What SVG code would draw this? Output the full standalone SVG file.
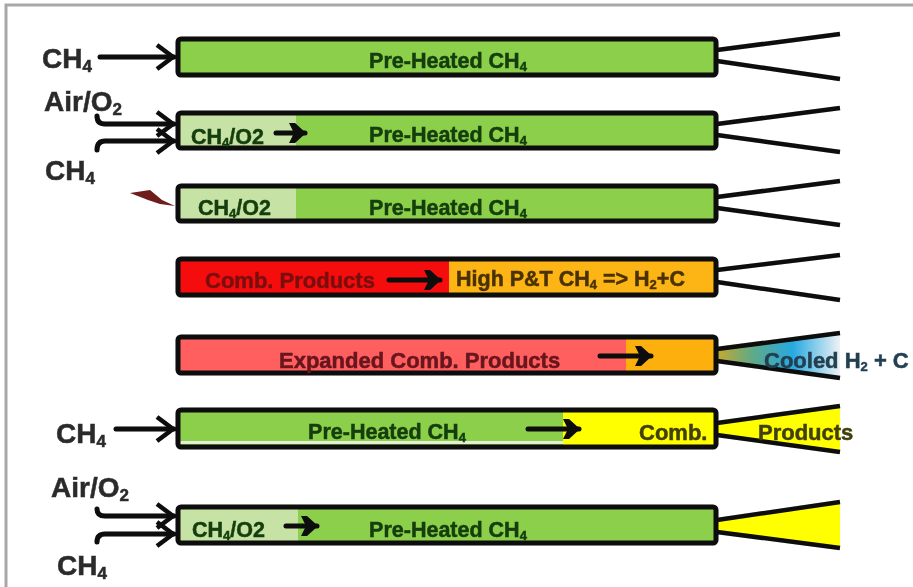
<svg xmlns="http://www.w3.org/2000/svg" width="913" height="587" viewBox="0 0 913 587">
<style>
text{font-family:"Liberation Sans",Arial,sans-serif;font-weight:700;stroke-width:0.5;paint-order:stroke}
.lab{font-size:28px;fill:#2c2c2c;stroke:#2c2c2c}
.in{font-size:21.5px;fill:#123c0a;stroke:#123c0a}
.s{font-size:13px}
.ls{font-size:17px}
.tube{fill:none;stroke:#0a0a0a;stroke-width:5;stroke-linejoin:round}
.noz{fill:none;stroke:#0a0a0a;stroke-width:4.5;stroke-linecap:butt}
.ln{fill:none;stroke:#0a0a0a;stroke-width:5;stroke-linecap:round;stroke-linejoin:round}
.g{fill:#8ccf4b}.lg{fill:#c6e3a5}
</style>
<defs>
<filter id="soft" x="0" y="0" width="913" height="587" filterUnits="userSpaceOnUse"><feGaussianBlur stdDeviation="0.6"/></filter>
<marker id="open" markerUnits="userSpaceOnUse" markerWidth="24" markerHeight="30" refX="21" refY="15" orient="auto"><path d="M4 3L20 15L4 27" fill="none" stroke="#0a0a0a" stroke-width="4.5"/></marker>
<marker id="solid" markerUnits="userSpaceOnUse" markerWidth="20" markerHeight="24" refX="18" refY="12" orient="auto"><path d="M2 2H8L19 12L8 22H2L7 12Z" fill="#0a0a0a"/></marker>
<linearGradient id="cool" gradientUnits="userSpaceOnUse" x1="716" y1="0" x2="840" y2="0"><stop offset="0" stop-color="#c8a92e"/><stop offset="0.3" stop-color="#5fa98a"/><stop offset="0.62" stop-color="#27a9e1"/><stop offset="1" stop-color="#eef2f4"/></linearGradient>
</defs>
<rect width="913" height="587" fill="#fff"/>
<g filter="url(#soft)">
<path d="M6 587V5H913" fill="none" stroke="#a8a8a8" stroke-width="3"/>

<g id="tube-1">
<rect x="178" y="39" width="538" height="36" class="g"/>
<rect x="178" y="39" width="538" height="36" rx="3" class="tube"/>
<path d="M717 50L840 34M717 61L840 79" class="noz"/>
<text x="448" y="68" text-anchor="middle" class="in">Pre-Heated CH<tspan class="s" dy="3">4</tspan></text>
<text x="42" y="68" class="lab">CH<tspan class="ls" dy="4">4</tspan></text>
</g>

<g id="tube-2">
<rect x="178" y="113" width="538" height="35" class="g"/>
<rect x="178" y="113" width="118" height="35" class="lg"/>
<rect x="178" y="113" width="538" height="35" rx="3" class="tube"/>
<path d="M717 124L840 108M717 135L840 152" class="noz"/>
<text x="448" y="142" text-anchor="middle" class="in">Pre-Heated CH<tspan class="s" dy="3">4</tspan></text>
<text x="191" y="144" class="in">CH<tspan class="s" dy="3">4</tspan><tspan dy="-3">/O2</tspan></text>
<text x="44" y="111" class="lab">Air/O<tspan class="ls" dy="4">2</tspan></text>
<text x="45" y="180" class="lab">CH<tspan class="ls" dy="4">4</tspan></text>
</g>

<g id="tube-3">
<rect x="178" y="186" width="538" height="35" class="g"/>
<rect x="178" y="186" width="118" height="35" class="lg"/>
<rect x="178" y="186" width="538" height="35" rx="3" class="tube"/>
<path d="M717 197L840 181M717 208L840 225" class="noz"/>
<text x="448" y="215" text-anchor="middle" class="in">Pre-Heated CH<tspan class="s" dy="3">4</tspan></text>
<text x="198" y="215" class="in">CH<tspan class="s" dy="3">4</tspan><tspan dy="-3">/O2</tspan></text>
<path d="M130 193L150 190L162 200L175 206L160 204L148 200Z" fill="#6e1c1c"/>
</g>

<g id="tube-4">
<rect x="178" y="259" width="271" height="36" fill="#f50a0a"/>
<rect x="449" y="259" width="267" height="36" fill="#fdb515"/>
<rect x="178" y="259" width="538" height="36" rx="3" class="tube"/>
<path d="M717 270L840 255M717 282L840 300" class="noz"/>
<text x="205" y="288" font-size="22" fill="#7c1010" stroke="#7c1010">Comb. Products</text>
<text x="456" y="286" font-size="21.5" fill="#4a3303" stroke="#4a3303">High P&amp;T CH<tspan class="s" dy="3">4</tspan><tspan dy="-3"> =&gt; H</tspan><tspan class="s" dy="3">2</tspan><tspan dy="-3">+C</tspan></text>
</g>

<g id="tube-5">
<path d="M717 349L840 333V378L717 361Z" fill="url(#cool)"/>
<rect x="178" y="337" width="538" height="36" fill="#ff5f5f"/>
<rect x="626" y="337" width="90" height="36" fill="#fdb010"/>
<rect x="178" y="337" width="538" height="36" rx="3" class="tube"/>
<path d="M717 349L840 333M717 361L840 378" class="noz"/>
<text x="279" y="368" font-size="22" fill="#66141c" stroke="#66141c">Expanded Comb. Products</text>
<text x="764" y="368" font-size="22" fill="#243f50" stroke="#243f50">Cooled H<tspan class="s" dy="3">2</tspan><tspan dy="-3"> + C</tspan></text>
</g>

<g id="tube-6">
<path d="M717 423L840 406V452L717 435Z" fill="#ffff00"/>
<rect x="178" y="410" width="385" height="37" class="g"/>
<rect x="178" y="441" width="385" height="3" fill="#e3eed3"/>
<rect x="563" y="410" width="153" height="37" fill="#ffff00"/>
<rect x="178" y="410" width="538" height="37" rx="3" class="tube"/>
<path d="M717 423L840 406M717 435L840 452" class="noz"/>
<text x="387" y="439" text-anchor="middle" class="in">Pre-Heated CH<tspan class="s" dy="3">4</tspan></text>
<text x="639" y="440" font-size="22" fill="#3f3f06" stroke="#3f3f06">Comb.</text>
<text x="758" y="440" font-size="22" fill="#3f3f10" stroke="#3f3f10">Products</text>
<text x="56" y="443" class="lab">CH<tspan class="ls" dy="4">4</tspan></text>
</g>

<g id="tube-7">
<path d="M717 520L840 502V548L717 532Z" fill="#ffff00"/>
<rect x="178" y="507" width="538" height="36" class="g"/>
<rect x="178" y="507" width="120" height="36" class="lg"/>
<rect x="178" y="507" width="538" height="36" rx="3" class="tube"/>
<path d="M717 520L840 502M717 532L840 548" class="noz"/>
<text x="448" y="537" text-anchor="middle" class="in">Pre-Heated CH<tspan class="s" dy="3">4</tspan></text>
<text x="192" y="537" class="in">CH<tspan class="s" dy="3">4</tspan><tspan dy="-3">/O2</tspan></text>
<text x="51" y="497" class="lab">Air/O<tspan class="ls" dy="4">2</tspan></text>
<text x="57" y="575" class="lab">CH<tspan class="ls" dy="4">4</tspan></text>
</g>

<g id="connectors">
<path d="M100 57H174" class="ln" marker-end="url(#open)"/>
<path d="M97 116Q97 124 105 124H174" class="ln" marker-end="url(#open)"/>
<path d="M97 150Q97 141 105 141H174" class="ln" marker-end="url(#open)"/>
<path d="M116 429H174" class="ln" marker-end="url(#open)"/>
<path d="M97 509Q97 516 105 516H174" class="ln" marker-end="url(#open)"/>
<path d="M97 542Q97 534 105 534H174" class="ln" marker-end="url(#open)"/>
<path d="M276 133H305" class="ln" marker-end="url(#solid)"/>
<path d="M389 280H440" class="ln" marker-end="url(#solid)"/>
<path d="M600 356H651" class="ln" marker-end="url(#solid)"/>
<path d="M528 429H579" class="ln" marker-end="url(#solid)"/>
<path d="M286 526H317" class="ln" marker-end="url(#solid)"/>
</g>
</g>
</svg>
